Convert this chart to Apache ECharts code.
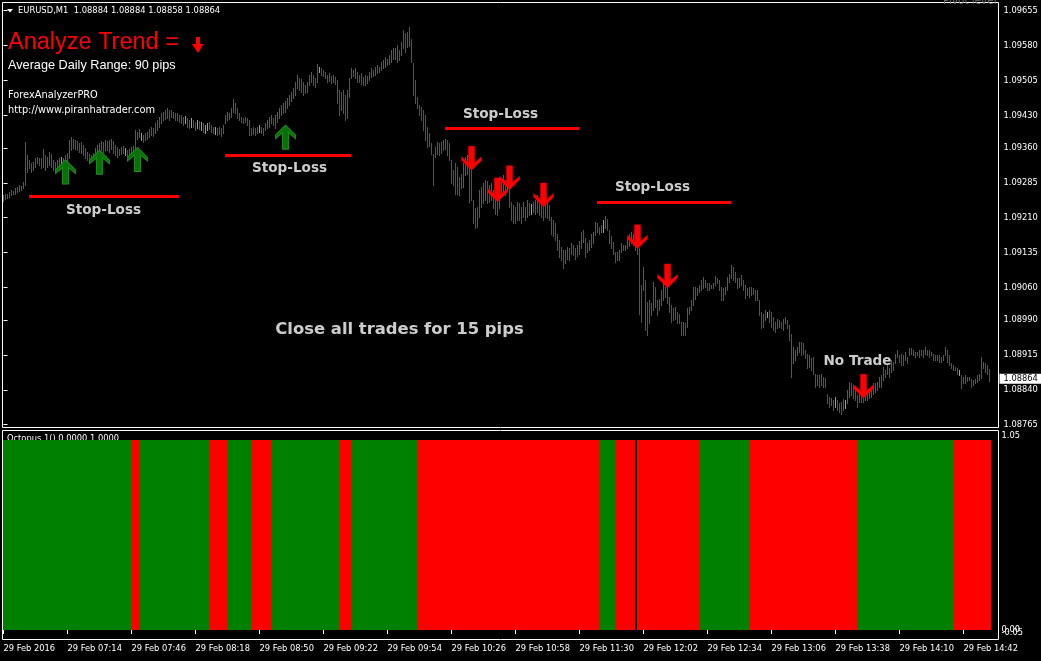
<!DOCTYPE html>
<html><head><meta charset="utf-8">
<script src="https://cdn.jsdelivr.net/npm/echarts@6/dist/echarts.min.js"></script>
<style>html,body{margin:0;padding:0;background:#000;}#c{width:1041px;height:661px;}</style>
</head><body><div id="c"></div>
<script>
// ---------- DATA ----------
const PRICE_BASE = 1.08, POINT = 0.00001;   // bar values below are in points above 1.08000
const symbolName = 'EURUSD,M1';
const headerOHLC = [1.08884, 1.08884, 1.08858, 1.08864];
const highPts = [
1258,1262,1260,1266,1270,1268,1274,1276,1280,1278,1286,1373,
1345,1334,1327,1330,1338,1341,1338,1338,1357,1345,1341,1352,1348,1334,1330,1334,1338,
1341,1338,1345,1350,1377,1384,
1380,1377,1375,1370,1372,1366,1360,1352,1348,1345,1350,
1360,1366,1370,1375,1373,1377,1375,1377,1380,1375,
1366,1362,1358,1362,1365,1360,1355,1358,1362,1365,
1398,1395,1400,1392,1388,1391,1395,1400,1406,1402,
1413,1420,1427,1434,1438,1441,1445,1441,
1441,1438,1434,1436,1431,1430,1427,1429,1424,1420,1424,1420,1416,1420,1418,
1416,1413,1409,1413,1416,1410,1406,1404,1402,1406,1402,1409,
1431,1438,1436,1445,1465,1456,1445,1436,
1427,1424,1427,1424,1420,1402,1406,1402,1404,1409,1406,1402,
1413,1420,1427,1431,1424,1431,1438,1445,1452,1456,1460,1467,1474,1481,1488,1502,1517,1510,
1509,1502,1495,1502,1517,1524,1517,1510,1540,
1534,1531,1527,1524,1517,1520,1515,1517,1512,
1506,1485,1481,1485,1474,1484,1510,
1531,1527,1531,1524,1517,1520,1512,1517,1514,1524,1531,1528,1534,
1538,1534,1545,1549,1556,1552,1560,1570,1574,
1574,1581,1570,1588,1613,1606,1610,1621,1595,1542,
1506,1470,1452,1449,1441,1430,1406,1392,
1370,1348,1362,1373,1370,1373,1377,1380,1377,1370,
1334,1313,1327,1320,1298,1305,1327,1341,1345,1320,
1312,1248,1230,1234,1270,
1277,1284,1291,1288,1280,1284,1270,1262,1255,1270,
1295,1302,1291,1288,1298,1244,1237,
1234,1244,1241,1234,1244,1234,1248,1241,1240,1244,1248,1259,1252,1256,1248,1237,1241,1237,1212,1205,
1198,1176,1162,1148,1140,1140,1148,1144,1155,1151,1145,1152,1160,
1180,1183,1166,1155,1162,1176,1180,
1201,1198,1190,1194,1205,1214,1208,1183,1170,
1158,1137,1137,1140,1155,1151,1151,1169,1176,
1180,1176,1166,1158,1144,
1065,1105,1076,1029,1033,1026,1072,1062,1033,1036,1054,1069,1062,1062,1040,
1022,1015,1019,1008,1004,986,986,983,1015,1019,
1033,1062,1062,1058,1065,1076,1083,1076,1069,1069,1065,1069,1085,1080,1076,
1062,1058,1062,1083,1090,1108,1105,
1094,1080,1080,1087,1076,1065,1058,1062,1062,1058,1054,1054,
1033,1008,1004,1011,1008,1011,1008,997,986,993,990,986,993,997,990,979,
961,933,926,933,943,
943,940,925,918,915,908,911,875,872,872,875,868,865,
832,825,822,818,825,818,811,814,821,818,840,
857,854,850,847,829,840,832,825,832,
836,840,847,854,854,857,868,
872,890,882,893,886,904,900,918,
925,915,918,915,922,911,929,929,925,922,922,925,925,925,933,925,925,922,918,915,915,915,911,915,931,925,
915,897,893,890,886,882,
872,868,872,868,868,864,861,864,872,875,
911,900,897,893,884];
const lowPts = [
1246,1250,1252,1254,1258,1260,1262,1266,1268,1270,1274,1280,
1309,1316,1309,1313,1320,1327,1323,1316,1320,1312,1320,1323,1320,1312,1309,1316,1312,
1320,1323,1327,1330,1338,1355,
1360,1358,1355,1352,1350,1345,1338,1334,1330,1334,1336,
1340,1345,1350,1355,1352,1356,1355,1352,1358,1350,
1345,1341,1345,1348,1350,1345,1341,1343,1345,1350,
1358,1380,1384,1377,1373,1377,1380,1384,1388,1386,
1391,1398,1406,1413,1420,1422,1424,1420,
1427,1424,1420,1420,1416,1413,1410,1413,1406,1402,1406,1404,1398,1402,1400,
1398,1395,1392,1398,1400,1395,1392,1390,1388,1390,1386,1392,
1413,1420,1422,1427,1438,1434,1424,1420,
1416,1413,1416,1409,1388,1388,1390,1388,1392,1395,1392,1388,
1398,1402,1406,1413,1409,1402,1416,1424,1431,1434,1438,1445,1452,1460,1467,1474,1488,1485,
1481,1474,1478,1481,1495,1502,1495,1492,1502,
1524,1517,1514,1510,1502,1504,1500,1502,1498,
1456,1431,1441,1434,1420,1424,1470,
1510,1514,1510,1502,1502,1498,1495,1496,1500,1506,1512,1514,1517,
1520,1524,1527,1531,1534,1538,1541,1545,1552,
1552,1545,1548,1560,1574,1567,1576,1580,1545,1474,
1456,1445,1430,1420,1398,1377,1363,1365,
1348,1280,1341,1348,1345,1350,1355,1358,1345,1334,
1284,1280,1262,1262,1259,1273,1277,1302,1305,1244,
1248,1198,1187,1191,1212,
1234,1241,1248,1241,1244,1248,1230,1219,1216,1230,
1262,1266,1259,1270,1234,1205,1198,
1198,1205,1205,1198,1212,1205,1212,1216,1219,1223,1219,1223,1216,1212,1205,1212,1209,1205,1176,1170,
1162,1140,1126,1120,1101,1112,1122,1119,1133,1130,1122,1128,1133,
1144,1158,1126,1137,1140,1148,1155,
1173,1180,1176,1180,1180,1187,1183,1155,1145,
1133,1115,1119,1119,1137,1140,1140,1144,1150,
1155,1151,1140,1133,1004,
986,1054,968,958,983,1001,1011,1019,1001,1011,1022,1033,1040,1026,1008,
986,990,993,983,983,958,958,958,975,1004,
1011,1022,1036,1044,1051,1054,1058,1062,1054,1054,1058,1058,1065,1069,1054,
1033,1033,1047,1054,1072,1080,1076,
1072,1058,1062,1065,1054,1037,1044,1040,1044,1047,1033,1033,
1001,972,976,990,997,986,976,968,965,972,976,972,968,983,972,947,
868,897,904,915,922,
915,918,908,886,890,883,875,847,850,847,850,847,847,
811,804,807,796,804,796,793,789,796,800,811,
825,829,822,818,804,814,814,814,818,
818,822,825,832,836,840,845,
847,861,868,875,868,879,882,897,
911,900,893,893,904,897,915,918,915,911,915,911,915,911,918,915,911,915,904,904,904,900,900,904,915,900,
893,886,882,882,875,872,
843,854,854,858,861,847,850,854,857,861,
865,886,879,875,858];
const greenBars = [29,61,69,91,94,97,99,101,102,106,128,158,252,264,300,382,416,421,478];

const timeTickBars = [0,32,64,96,128,160,192,224,256,288,320,352,384,416,448,480];
const timeTickLabels = ['29 Feb 2016','29 Feb 07:14','29 Feb 07:46','29 Feb 08:18','29 Feb 08:50','29 Feb 09:22',
  '29 Feb 09:54','29 Feb 10:26','29 Feb 10:58','29 Feb 11:30','29 Feb 12:02','29 Feb 12:34','29 Feb 13:06',
  '29 Feb 13:38','29 Feb 14:10','29 Feb 14:42'];
const priceTicks = [1.09655,1.09580,1.09505,1.09430,1.09360,1.09285,1.09210,1.09135,1.09060,1.08990,1.08915,1.08840,1.08765];
const octoTopTicks = [1.05];
const octoZeroTicks = [0];
const octoBottomTicks = [-0.05];

// Octopus indicator: runs of bars (start bar, state: 1 = up/green, -1 = down/red, 0 = empty)
const octoRunStart = [0,64,68,103,112,124,134,168,174,207,298,306,316,317,348,373,427,475];
const octoRunState = [1,-1,1,-1,1,-1,1,-1,1,-1,1,-1,0,-1,1,-1,1,-1];

const buyBars = [31,48,67,141];
const buyPrices = [1.09334,1.09355,1.09361,1.09409];
const sellBars = [234,247,253,270,317,332,430];
const sellPrices = [1.09312,1.09244,1.09270,1.09233,1.09143,1.09059,1.08822];

const stopStartBars = [13,111,221,297];
const stopEndBars = [87,173,287,363];
const stopPrices = [1.09256,1.09344,1.09402,1.09243];

const noteTexts = ['Stop-Loss','Stop-Loss','Stop-Loss','Stop-Loss','Close all trades for 15 pips','No Trade'];
const noteBars = [50,143,248.5,324.5,198,427];
const notePrices = [1.09225,1.09316,1.09432,1.09274,1.08970,1.08902];

const trendLabel = 'Analyze Trend =';
const adrText = 'Average Daily Range: 90 pips';
const brandLines = ['ForexAnalyzerPRO','http://www.piranhatrader.com'];
const indicatorTitle = 'Octopus 1() 0.0000 1.0000';

// ---------- BUILD ----------
const N = highPts.length;
const greenSet = new Set(greenBars);
const barData = highPts.map((h, i) => {
  const mid = (h + lowPts[i]) / 2;
  const prev = i > 0 ? (highPts[i-1] + lowPts[i-1]) / 2 : mid;
  const st = greenSet.has(i) ? 2 : (mid >= prev ? 0 : 1);
  return [i, PRICE_BASE + h*POINT, PRICE_BASE + lowPts[i]*POINT, st];
});
const BAR_COLORS = ['#8b27d9', '#e8141a', '#2bef2b'];

const octoData = octoRunStart.map((s, k) => {
  const e = k < octoRunStart.length - 1 ? octoRunStart[k+1] - 1 : N - 1;
  return [s, e, 0, 1, octoRunState[k]];
});
const stopData = stopPrices.map((p, k) => [stopStartBars[k] - 0.5, stopEndBars[k] + 0.5, p]);
const lastClose = headerOHLC[3];

const UP_PATH = 'path://M10 0 L20 10 L20 13.5 L13 7.5 L13 24 L7 24 L7 7.5 L0 13.5 L0 10 Z';
const DN_PATH = 'path://M7 0 L13 0 L13 16.5 L20 10.5 L20 14 L10 24 L0 14 L0 10.5 L7 16.5 Z';
const TAHOMA = 'DejaVu Sans';
const XMIN = -0.5, XMAX = 497.5;
const YMIN = 1.08759, YMAX = 1.096726;
const CLEAR = 'rgba(0,0,0,0)';

function octoAxis(values, rich) {
  return {type: 'value', gridIndex: 1, position: 'right', min: -0.05, max: 1.05,
    axisLine: {show: false}, splitLine: {show: false},
    axisTick: {show: values[0] > 1, customValues: values, length: 3, lineStyle: {color: '#fff'}},
    axisLabel: {show: true, customValues: values, showMinLabel: true, showMaxLabel: true,
      color: '#fff', fontFamily: TAHOMA, fontSize: 8.3, margin: 3,
      formatter: v => '{r|' + v.toFixed(2) + '}',
      rich: {r: Object.assign({color: '#fff', fontFamily: TAHOMA, fontSize: 8.3}, rich)}}};
}

const chart = echarts.init(document.getElementById('c'), null, {renderer: 'canvas', width: 1041, height: 661});
chart.setOption({
  backgroundColor: '#000',
  animation: false,
  grid: [
    {left: 2.5, top: 2.5, width: 996, height: 425, show: true, borderColor: '#fff', borderWidth: 1,
     backgroundColor: 'transparent', containLabel: false, outerBoundsMode: 'none'},
    {left: 2.5, top: 430.5, width: 996, height: 209, show: true, borderColor: '#fff', borderWidth: 1,
     backgroundColor: 'transparent', containLabel: false, outerBoundsMode: 'none'}
  ],
  xAxis: [
    {type: 'value', gridIndex: 0, min: XMIN, max: XMAX, show: false},
    {type: 'value', gridIndex: 1, min: XMIN, max: XMAX,
     axisLine: {show: false}, splitLine: {show: false},
     axisTick: {show: true, customValues: timeTickBars, length: 4, lineStyle: {color: '#fff'}},
     axisLabel: {show: true, customValues: timeTickBars, color: '#fff', fontFamily: TAHOMA, fontSize: 8.3,
       align: 'left', margin: 5,
       formatter: v => timeTickLabels[timeTickBars.indexOf(Math.round(v))] || ''}}
  ],
  yAxis: [
    {type: 'value', gridIndex: 0, position: 'right', min: YMIN, max: YMAX, scale: true,
     axisLine: {show: false}, splitLine: {show: false},
     axisTick: {show: true, customValues: priceTicks, length: 4, lineStyle: {color: '#fff'}},
     axisLabel: {show: true, customValues: priceTicks, color: '#fff', fontFamily: TAHOMA, fontSize: 8.3, margin: 5,
       formatter: v => v.toFixed(5)}},
    octoAxis(octoTopTicks, {padding: [11, 0, 0, 0]}),
    octoAxis(octoZeroTicks, {padding: [0, 0, 0, 0]}),
    octoAxis(octoBottomTicks, {padding: [0, 0, 13, 0]}),
    // last price marker on the price scale
    {type: 'value', gridIndex: 0, position: 'right', offset: 0, min: YMIN, max: YMAX, scale: true,
     axisLine: {show: false}, splitLine: {show: false}, axisTick: {show: false},
     axisLabel: {show: true, customValues: [lastClose], margin: 1,
       formatter: v => v.toFixed(5), color: '#000', backgroundColor: '#fff', padding: [1, 4, 1, 4],
       fontFamily: TAHOMA, fontSize: 8.3}}
  ],
  series: [
    {type: 'custom', name: 'price', xAxisIndex: 0, yAxisIndex: 0, silent: true,
     data: barData, encode: {x: 0, y: [1, 2]},
     renderItem: (params, api) => {
       const i = api.value(0);
       const a = api.coord([i, api.value(1)]);
       const b = api.coord([i, api.value(2)]);
       const x = Math.floor(a[0]) + 0.5;
       return {type: 'line', shape: {x1: x, y1: Math.round(a[1]), x2: x, y2: Math.round(b[1]) + 1},
               style: {stroke: BAR_COLORS[api.value(3)], lineWidth: 1}};
     }},
    {type: 'custom', name: 'octopus', xAxisIndex: 1, yAxisIndex: 1, silent: true,
     data: octoData, encode: {x: [0, 1], y: [2, 3]},
     renderItem: (params, api) => {
       const st = api.value(4);
       if (!st) return null;
       const a = api.coord([api.value(0) - 0.5, api.value(3)]);
       const b = api.coord([api.value(1) + 0.5, api.value(2)]);
       const x0 = Math.round(a[0]), x1 = Math.round(b[0]);
       const y0 = Math.round(a[1]), y1 = Math.round(b[1]);
       return {type: 'rect', shape: {x: x0, y: y0, width: x1 - x0, height: y1 - y0},
               style: {fill: st > 0 ? '#008000' : '#ff0000'}};
     }},
    {type: 'custom', name: 'stops', xAxisIndex: 0, yAxisIndex: 0, silent: true,
     data: stopData, encode: {x: [0, 1], y: 2},
     renderItem: (params, api) => {
       const a = api.coord([api.value(0), api.value(2)]);
       const b = api.coord([api.value(1), api.value(2)]);
       const y = Math.round(a[1]) + 0.5;
       return {type: 'line', shape: {x1: Math.round(a[0]), y1: y, x2: Math.round(b[0]), y2: y},
               style: {stroke: '#ff0000', lineWidth: 3}};
     }},
    {type: 'scatter', name: 'buy', xAxisIndex: 0, yAxisIndex: 0, silent: true,
     data: buyBars.map((b, k) => [b, buyPrices[k]]),
     symbol: UP_PATH, symbolSize: [20, 24], symbolOffset: [0, 12],
     itemStyle: {color: '#0a700a', borderColor: '#1f8f1f', borderWidth: 1, opacity: 1}},
    {type: 'scatter', name: 'sell', xAxisIndex: 0, yAxisIndex: 0, silent: true,
     data: sellBars.map((b, k) => [b, sellPrices[k]]),
     symbol: DN_PATH, symbolSize: [20, 24], symbolOffset: [0, -12],
     itemStyle: {color: '#ff0000', borderColor: '#e00000', borderWidth: 0.5, opacity: 1}},
    {type: 'scatter', name: 'notes', xAxisIndex: 0, yAxisIndex: 0, silent: true,
     data: noteTexts.map((t, k) => ({value: [noteBars[k], notePrices[k]],
       label: {fontSize: t.length > 12 ? 16.4 : 13.6}})),
     symbolSize: 1, itemStyle: {color: CLEAR},
     label: {show: true, position: 'inside', color: '#ffffff', textBorderWidth: 0, textBorderColor: CLEAR,
       fontFamily: TAHOMA, fontWeight: 'bold',
       formatter: p => noteTexts[p.dataIndex]}}
  ],
  graphic: [
    {type: 'polygon', shape: {points: [[7, 9], [13, 9], [10, 12.5]]}, style: {fill: '#fff'}},
    {type: 'text', style: {text: symbolName + '  ' + headerOHLC.map(v => v.toFixed(5)).join(' '),
      x: 18, y: 10.5, fill: '#fff', fontFamily: TAHOMA, fontSize: 8.4, verticalAlign: 'middle'}},
    {type: 'text', style: {text: 'Pivot level', x: 943, y: 1, fill: '#6e6e6e', fontFamily: TAHOMA, fontSize: 10.4,
      verticalAlign: 'middle'}},
    {type: 'text', style: {text: trendLabel, x: 8, y: 42.5, fill: '#ff0000', fontFamily: 'Liberation Sans',
      fontSize: 23.5, verticalAlign: 'middle'}},
    {type: 'polygon', shape: {points: [[196, 37], [200, 37], [200, 44], [203.5, 44], [198, 53], [192, 44], [196, 44]]},
      style: {fill: '#ff0000'}},
    {type: 'text', style: {text: adrText, x: 8, y: 65.5, fill: '#fff', fontFamily: 'Liberation Sans', fontSize: 12.7,
      verticalAlign: 'middle'}},
    {type: 'text', style: {text: brandLines[0], x: 8, y: 95.5, fill: '#fff', fontFamily: TAHOMA, fontSize: 9.8,
      verticalAlign: 'middle'}},
    {type: 'text', style: {text: brandLines[1], x: 8, y: 110, fill: '#fff', fontFamily: TAHOMA, fontSize: 9.8,
      verticalAlign: 'middle'}},
    {type: 'text', style: {text: indicatorTitle, x: 7, y: 438.5, fill: '#fff', fontFamily: TAHOMA, fontSize: 8.3,
      verticalAlign: 'middle'}}
  ]
});
</script>
</body></html>
